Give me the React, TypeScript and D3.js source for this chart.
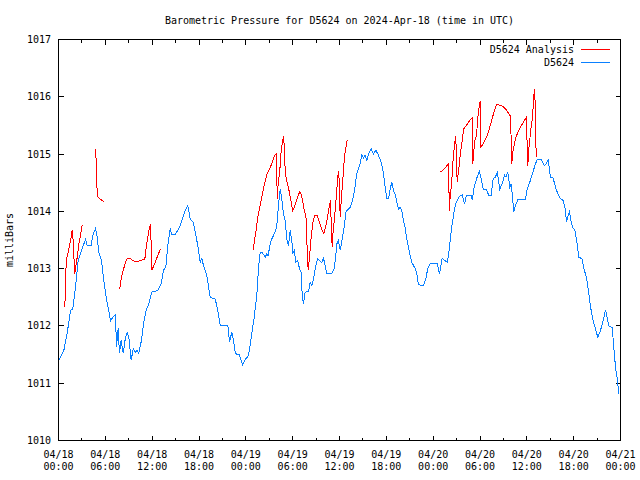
import React from "react";
import * as d3 from "d3";

// Hours since 2024-04-18 00:00 UTC
const stationHours = [
  0.04, 0.68, 1.11, 1.54, 1.83, 2.18, 2.52, 2.95, 3.46, 3.68, 4.23, 4.32, 4.74, 4.96, 5.16, 5.51, 5.8, 6.24, 6.44, 6.66,
  6.96, 7.3, 7.43, 7.65, 7.81, 8.03, 8.29, 8.58, 8.8, 9.01, 9.31, 9.57, 9.86, 10.08, 10.29, 10.63, 10.93, 11.23, 11.57, 11.95,
  12.72, 13.16, 13.45, 13.75, 14.0, 14.31, 14.51, 14.95, 15.59, 16.23, 16.56, 16.87, 17.29, 17.51, 17.85, 18.15, 18.36, 18.58, 19.0, 19.43,
  20.07, 20.37, 20.71, 21.69, 21.91, 22.2, 22.42, 22.64, 22.84, 23.15, 23.32, 23.57, 23.96, 24.34, 24.6, 24.85, 25.02, 25.2, 25.4, 25.62,
  25.84, 26.07, 26.48, 26.69, 26.84, 27.12, 27.33, 27.76, 27.97, 28.18, 28.4, 28.61, 28.82, 29.04, 29.25, 29.46, 29.68, 29.89, 30.01, 30.2,
  30.4, 30.66, 30.87, 31.09, 31.22, 31.39, 31.6, 32.03, 32.24, 32.45, 32.67, 32.89, 33.18, 33.44, 33.73, 33.95, 34.17, 34.37, 35.01, 35.32,
  35.52, 35.65, 35.87, 36.09, 36.38, 36.64, 36.81, 37.37, 37.66, 37.92, 38.21, 38.43, 38.65, 38.86, 39.07, 39.29, 39.5, 39.71, 40.06, 40.35,
  40.65, 40.99, 41.34, 41.63, 41.85, 42.06, 42.28, 42.49, 42.7, 42.92, 43.13, 43.34, 43.56, 43.77, 43.98, 44.2, 44.41, 44.62, 44.84, 45.05,
  45.26, 45.7, 45.9, 46.12, 46.76, 47.05, 47.31, 47.62, 48.51, 48.81, 49.15, 49.8, 50.0, 50.22, 50.44, 50.64, 50.86, 51.28, 51.72, 52.01,
  52.27, 52.87, 53.0, 53.29, 53.64, 53.93, 54.19, 54.41, 54.83, 55.12, 55.43, 55.69, 55.98, 56.2, 56.3, 56.53, 56.84, 57.14, 57.33, 57.56,
  57.82, 58.0, 58.33, 58.54, 58.84, 59.82, 60.04, 60.46, 60.76, 61.11, 61.32, 61.84, 62.26, 62.47, 62.73, 63.02, 63.37, 63.67, 63.96, 64.31,
  64.65, 64.95, 65.08, 65.24, 65.46, 65.68, 65.94, 66.14, 66.45, 66.66, 67.09, 67.3, 67.64, 67.94, 68.16, 68.5, 68.8, 69.09, 69.43, 69.78,
  70.07, 70.29, 70.5, 70.94, 71.14, 71.36, 71.58, 71.78,
];
const stationPressure = [
  1011.4, 1011.57, 1011.87, 1012.27, 1012.3, 1012.68, 1013.14, 1013.32, 1013.51, 1013.4, 1013.4, 1013.55, 1013.7, 1013.55, 1013.29, 1013.14, 1012.79, 1012.39, 1012.27, 1012.09,
  1012.15, 1012.2, 1011.63, 1011.96, 1011.52, 1011.75, 1011.52, 1011.8, 1011.89, 1011.8, 1011.4, 1011.6, 1011.54, 1011.58, 1011.52, 1011.75, 1012.07, 1012.27, 1012.39, 1012.59,
  1012.62, 1012.74, 1012.97, 1013.03, 1013.4, 1013.7, 1013.59, 1013.59, 1013.75, 1014.02, 1014.1, 1013.87, 1013.8, 1013.64, 1013.4, 1013.11, 1013.18, 1013.05, 1012.88, 1012.5,
  1012.47, 1012.3, 1012.01, 1012.01, 1011.72, 1011.89, 1011.75, 1011.54, 1011.5, 1011.5, 1011.43, 1011.32, 1011.42, 1011.48, 1011.7, 1011.95, 1012.09, 1012.3, 1012.53, 1013.0,
  1013.29, 1013.29, 1013.2, 1013.26, 1013.22, 1013.43, 1013.52, 1013.64, 1013.75, 1014.1, 1014.39, 1014.22, 1013.96, 1013.84, 1013.52, 1013.4, 1013.67, 1013.49, 1013.26, 1013.32,
  1013.11, 1013.14, 1013.0, 1012.94, 1012.53, 1012.39, 1012.59, 1012.6, 1012.76, 1012.7, 1012.82, 1013.0, 1013.17, 1013.14, 1013.11, 1013.18, 1013.05, 1012.91, 1012.91, 1013.0,
  1013.23, 1013.43, 1013.49, 1013.32, 1013.55, 1013.75, 1013.99, 1014.07, 1014.19, 1014.36, 1014.66, 1014.74, 1014.83, 1014.98, 1014.93, 1014.98, 1014.89, 1015.0, 1015.09, 1015.0,
  1015.07, 1014.98, 1014.86, 1014.66, 1014.42, 1014.22, 1014.22, 1014.39, 1014.51, 1014.36, 1014.3, 1014.16, 1014.04, 1014.07, 1014.01, 1013.84, 1013.72, 1013.52, 1013.37, 1013.23,
  1013.11, 1013.0, 1012.91, 1012.72, 1012.7, 1012.82, 1013.0, 1013.09, 1013.09, 1012.91, 1013.18, 1013.11, 1013.26, 1013.55, 1013.78, 1013.96, 1014.13, 1014.25, 1014.29, 1014.13,
  1014.28, 1014.28, 1014.2, 1014.45, 1014.6, 1014.7, 1014.54, 1014.39, 1014.38, 1014.28, 1014.28, 1014.57, 1014.6, 1014.68, 1014.6, 1014.39, 1014.48, 1014.63, 1014.6, 1014.68,
  1014.42, 1014.48, 1013.99, 1014.1, 1014.2, 1014.2, 1014.39, 1014.54, 1014.68, 1014.83, 1014.9, 1014.9, 1014.8, 1014.83, 1014.9, 1014.6, 1014.58, 1014.42, 1014.31, 1014.22,
  1014.19, 1014.02, 1013.81, 1013.91, 1013.99, 1013.81, 1013.7, 1013.68, 1013.43, 1013.2, 1013.17, 1013.0, 1012.85, 1012.56, 1012.33, 1012.09, 1011.95, 1011.8, 1011.92, 1012.09,
  1012.28, 1012.15, 1012.0, 1011.97, 1011.63, 1011.28, 1011.08, 1010.81,
];

// Analysis series; null marks a gap between runs
const analysisHours = [
  0.81, 0.9, 0.99, 1.19, 1.41, 1.63, 1.76, 1.88, 2.01, 2.09, 2.27, 2.4, 2.6, 2.82, 3.04, null,
  4.74, 4.83, 4.91, 5.03, 5.38, 5.8, null,
  7.85, 8.03, 8.29, 8.58, 8.8, 9.22, 9.86, 10.5, 11.06, 11.27, 11.49, 11.66, 11.79, 11.88, 11.95, 12.21, 12.64, 13.07, null,
  24.94, 25.11, 25.37, 25.53, 25.79, 26.1, 26.39, 26.74, 27.07, 27.38, 27.71, 27.93, 28.02, 28.14, 28.35, 28.53, 28.73, 28.86, 28.99, 29.17,
  29.38, 29.59, 29.81, 30.02, 30.27, 30.58, 30.91, 31.13, 31.42, 31.73, 31.86, 31.99, 32.15, 32.37, 32.63, 32.83, 33.14, 33.35, 33.56, 33.78,
  33.99, 34.2, 34.42, 34.63, 34.84, 34.93, 35.06, 35.19, 35.36, 35.58, 35.78, 35.91, 36.0, 36.09, 36.22, 36.42, 36.64, 36.86, 36.98, null,
  48.85, 49.15, 49.58, 50.0, 50.05, 50.22, 50.35, 50.51, 50.77, 50.9, 50.99, 51.08, 51.28, 51.5, 51.72, 51.92, 52.27, 52.56, 52.87, 53.0,
  53.07, 53.2, 53.33, 53.55, 53.71, 53.89, 54.02, 54.06, 54.28, 54.57, 54.92, 55.25, 55.56, 55.85, 56.11, 56.41, 56.84, 57.26, 57.56, 57.9,
  57.99, 58.07, 58.2, 58.41, 58.67, 58.96, 59.27, 59.61, 59.95, 60.04, 60.12, 60.25, 60.55, 60.72, 60.81, 60.89, 61.02, 61.11, 61.2,
];
const analysisPressure = [
  1012.33, 1012.74, 1013.14, 1013.26, 1013.4, 1013.55, 1013.68, 1013.49, 1013.09, 1012.91, 1013.09, 1013.2, 1013.43, 1013.58, 1013.77, null,
  1015.09, 1014.88, 1014.45, 1014.25, 1014.21, 1014.17, null,
  1012.65, 1012.82, 1012.97, 1013.11, 1013.18, 1013.17, 1013.12, 1013.14, 1013.17, 1013.4, 1013.58, 1013.72, 1013.78, 1013.37, 1012.97, 1013.05, 1013.2, 1013.35, null,
  1013.32, 1013.49, 1013.72, 1013.9, 1014.07, 1014.28, 1014.48, 1014.66, 1014.74, 1014.86, 1014.98, 1015.0, 1014.22, 1014.48, 1014.71, 1015.06, 1015.24, 1015.32, 1014.83, 1014.57,
  1014.45, 1014.33, 1014.16, 1014.01, 1014.1, 1014.22, 1014.35, 1014.28, 1014.07, 1013.87, 1013.32, 1012.97, 1013.2, 1013.55, 1013.84, 1013.93, 1013.93, 1013.84, 1013.75, 1013.67,
  1013.61, 1013.72, 1013.87, 1014.04, 1014.19, 1013.84, 1013.37, 1013.67, 1013.87, 1014.25, 1014.6, 1014.71, 1014.28, 1013.9, 1014.19, 1014.54, 1014.95, 1015.15, 1015.25, null,
  1014.68, 1014.71, 1014.77, 1014.83, 1014.01, 1014.33, 1014.45, 1014.83, 1015.21, 1015.32, 1014.86, 1014.51, 1014.74, 1015.03, 1015.24, 1015.44, 1015.5, 1015.56, 1015.62, 1015.63,
  1014.83, 1015.03, 1015.24, 1015.32, 1015.62, 1015.82, 1015.92, 1015.12, 1015.15, 1015.22, 1015.32, 1015.47, 1015.62, 1015.76, 1015.87, 1015.86, 1015.84, 1015.79, 1015.73, 1015.66,
  1015.27, 1014.83, 1015.03, 1015.18, 1015.32, 1015.41, 1015.49, 1015.57, 1015.64, 1015.15, 1014.8, 1015.09, 1015.47, 1015.64, 1015.82, 1016.02, 1016.13, 1015.53, 1014.95,
];

const xTickHours = [0, 6, 12, 18, 24, 30, 36, 42, 48, 54, 60, 66, 72];
const xTickDates = ["04/18", "04/18", "04/18", "04/18", "04/19", "04/19", "04/19", "04/19", "04/20", "04/20", "04/20", "04/20", "04/21"];
const xTickTimes = ["00:00", "06:00", "12:00", "18:00", "00:00", "06:00", "12:00", "18:00", "00:00", "06:00", "12:00", "18:00", "00:00"];
const xMinorHours = [3, 9, 15, 21, 27, 33, 39, 45, 51, 57, 63, 69];
const yTicks = [1010, 1011, 1012, 1013, 1014, 1015, 1016, 1017];

const titleText = "Barometric Pressure for D5624 on 2024-Apr-18 (time in UTC)";
const yLabel = "milliBars";
const seriesNames = ["D5624 Analysis", "D5624"];
const seriesColors = ["#ff0000", "#0a80ff"];

const W = 640;
const H = 480;
const FONT = "'DejaVu Sans Mono', 'Liberation Mono', monospace";

export default function App() {
  const x = d3.scaleLinear().domain([0, 72]).range([58.5, 620.5]);
  const y = d3.scaleLinear().domain([1010, 1017]).range([440.5, 39.5]);

  const station = stationHours.map((h, i) => [h, stationPressure[i]] as [number, number]);
  const analysis = analysisHours.map((h, i) => [h, analysisPressure[i]] as [number | null, number | null]);

  const line = d3
    .line<[number | null, number | null]>()
    .defined((d) => d[0] != null && d[1] != null)
    .x((d) => x(d[0] as number))
    .y((d) => y(d[1] as number));

  const left = x(0);
  const right = x(72);
  const top = y(1017);
  const bottom = y(1010);
  const majorLen = 5;
  const minorLen = 3;

  return (
    <svg
      width={W}
      height={H}
      style={{ position: "absolute", left: 0, top: 0, background: "#fff" }}
      fontFamily={FONT}
      fontSize={10}
    >
      <rect x={0} y={0} width={W} height={H} fill="#fff" />
      <text x={(left + right) / 2} y={23.5} textAnchor="middle" fill="#000">
        {titleText}
      </text>

      {/* ticks */}
      <g stroke="#000" strokeWidth={1} shapeRendering="crispEdges">
        {xTickHours.map((h) => (
          <g key={"xt" + h}>
            <line x1={x(h)} x2={x(h)} y1={bottom} y2={bottom - majorLen} />
            <line x1={x(h)} x2={x(h)} y1={top} y2={top + majorLen} />
          </g>
        ))}
        {xMinorHours.map((h) => (
          <g key={"xm" + h}>
            <line x1={x(h)} x2={x(h)} y1={bottom} y2={bottom - minorLen} />
            <line x1={x(h)} x2={x(h)} y1={top} y2={top + minorLen} />
          </g>
        ))}
        {yTicks.map((v) => (
          <g key={"yt" + v}>
            <line x1={left} x2={left + majorLen} y1={y(v)} y2={y(v)} />
            <line x1={right} x2={right - majorLen} y1={y(v)} y2={y(v)} />
          </g>
        ))}
      </g>

      {/* tick labels */}
      {yTicks.map((v) => (
        <text key={"yl" + v} x={51} y={y(v)} dy="0.35em" textAnchor="end" fill="#000">
          {v}
        </text>
      ))}
      {xTickHours.map((h, i) => (
        <g key={"xl" + h}>
          <text x={x(h)} y={457.5} textAnchor="middle" fill="#000">
            {xTickDates[i]}
          </text>
          <text x={x(h)} y={469.5} textAnchor="middle" fill="#000">
            {xTickTimes[i]}
          </text>
        </g>
      ))}

      <text transform="translate(13,240) rotate(-90)" textAnchor="middle" fill="#000">
        {yLabel}
      </text>

      {/* series */}
      <path d={line(analysis) || ""} fill="none" stroke={seriesColors[0]} strokeWidth={1} shapeRendering="crispEdges" />
      <path d={line(station) || ""} fill="none" stroke={seriesColors[1]} strokeWidth={1} shapeRendering="crispEdges" />

      {/* legend */}
      {seriesNames.map((name, i) => {
        const ly = 49.5 + i * 12.5;
        return (
          <g key={name}>
            <text x={574} y={ly} dy="0.35em" textAnchor="end" fill="#000">
              {name}
            </text>
            <line x1={581} x2={610} y1={ly} y2={ly} stroke={seriesColors[i]} strokeWidth={1} shapeRendering="crispEdges" />
          </g>
        );
      })}

      {/* frame */}
      <rect
        x={left}
        y={top}
        width={right - left}
        height={bottom - top}
        fill="none"
        stroke="#000"
        strokeWidth={1}
        shapeRendering="crispEdges"
      />
    </svg>
  );
}
